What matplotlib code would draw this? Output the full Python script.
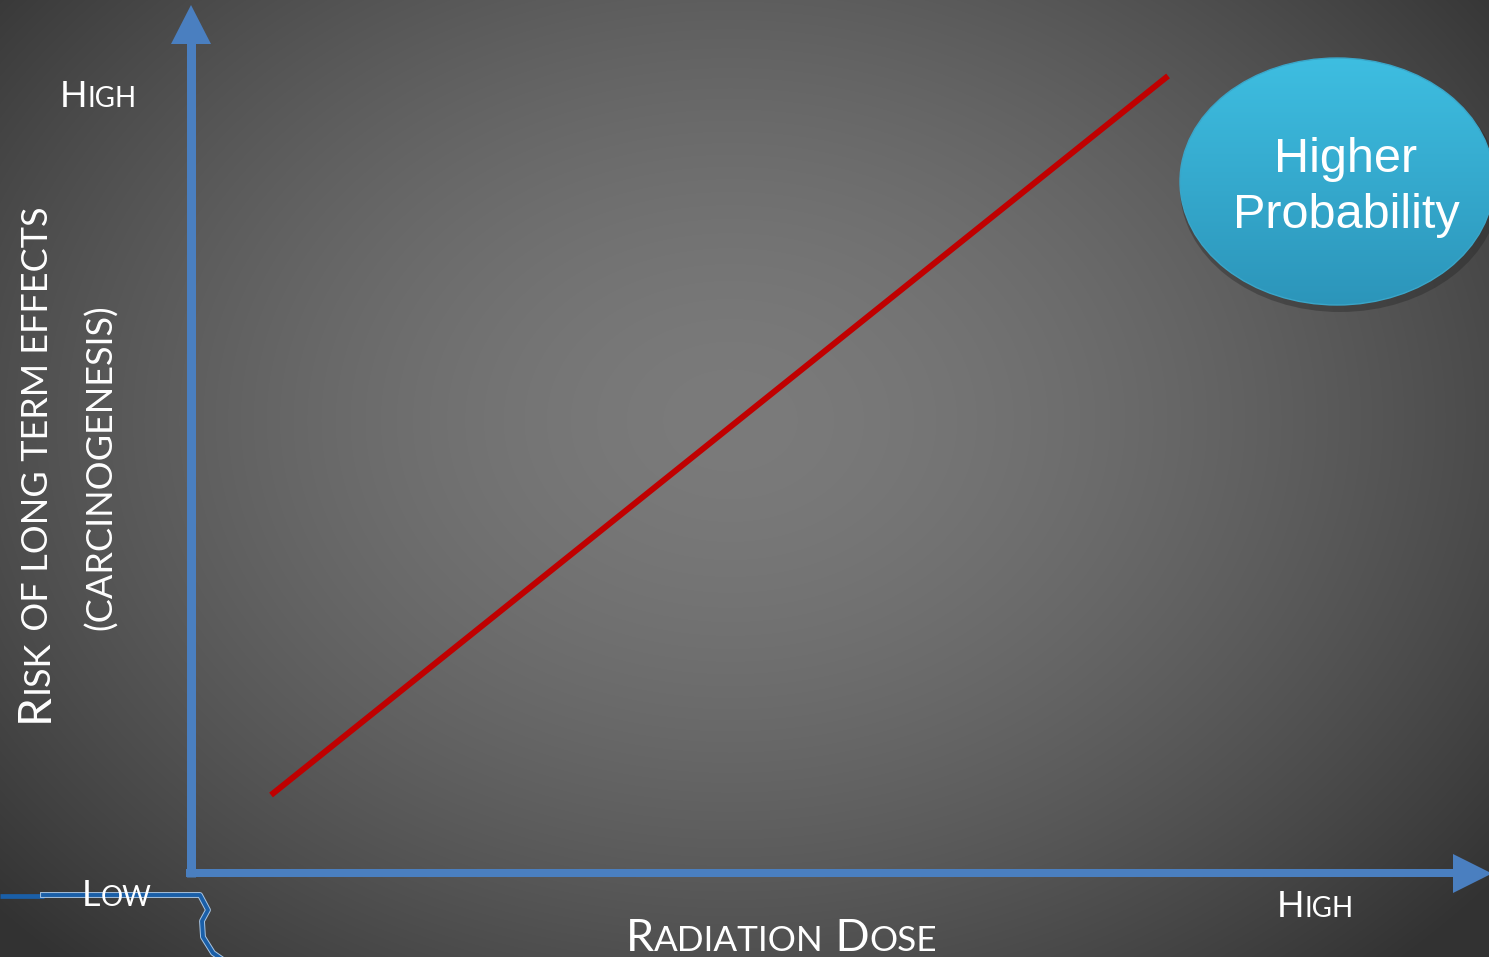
import re
import numpy as np
import matplotlib
matplotlib.use("Agg")
import matplotlib.pyplot as plt
from matplotlib.patches import Polygon, Ellipse

# ---------------- data ----------------
dose = [1.0, 10.0]          # radiation dose (arbitrary units)
risk = [1.0, 10.0]          # risk of long-term effects (arbitrary units)
x_label = "Radiation Dose"
y_label_lines = ["Risk of long term effects", "(carcinogenesis)"]
low_label = "Low"
high_label = "High"
bubble_lines = ["Higher", "Probability"]

W, H = 1489, 957
fig = plt.figure(figsize=(W / 100, H / 100), dpi=100)

# overlay axes in pixel coordinates (decoration)
ov = fig.add_axes([0, 0, 1, 1])
ov.set_xlim(0, W)
ov.set_ylim(H, 0)
ov.axis("off")

# background radial gradient
yy, xx = np.mgrid[0:H, 0:W]
cx, cy, rx, ry = 730, 420, 1000, 760
r = np.sqrt(((xx - cx) / rx) ** 2 + ((yy - cy) / ry) ** 2)
v = (0x7b - (0x7b - 0x38) * np.clip(r / 0.93, 0, 1.05) ** 1.6) / 255.0
img = np.dstack([v, v, v])
ov.imshow(img, extent=(0, W, H, 0), aspect="auto", zorder=0, interpolation="bilinear")

axis_col = "#4a7fc0"
# y-axis arrow
ov.plot([190.5, 190.5], [877, 40], color=axis_col, lw=9 * 0.72, solid_capstyle="butt", zorder=3)
ov.add_patch(Polygon([(171, 44), (211, 44), (191, 5)], closed=True, fc=axis_col, ec="none", zorder=3))
# x-axis arrow
ov.plot([186, 1458], [873, 873], color=axis_col, lw=8 * 0.72, solid_capstyle="butt", zorder=3)
ov.add_patch(Polygon([(1453, 854), (1453, 893), (1492, 873.5)], closed=True, fc=axis_col, ec="none", zorder=3))

# stray connector line at bottom-left
ov.plot([0, 44], [896, 896], color="#1a5fa8", lw=3.4, solid_capstyle="butt", zorder=2)
path_x = [43, 200, 208, 202, 203, 213, 226]
path_y = [895, 895, 910, 921, 937, 953, 962]
ov.plot(path_x, path_y, color="#a9c6e4", lw=4.2, zorder=2)
ov.plot(path_x, path_y, color="#1a5fa8", lw=2.8, zorder=2)

# bubble
ov.add_patch(Ellipse((1340, 188), 320, 248, fc="#262626", ec="none", alpha=0.40, zorder=3))
bx, by, bw, bh = 1337, 181.5, 314, 247
ell = Ellipse((bx, by), bw, bh, fc="none", ec="none", zorder=4)
ov.add_patch(ell)
gy = np.linspace(0, 1, 256)[:, None]
top = np.array([0x3e, 0xbe, 0xe1]) / 255.0
bot = np.array([0x2c, 0x95, 0xba]) / 255.0
grad = top[None, None, :] * (1 - gy[..., None]) + bot[None, None, :] * gy[..., None]
grad = np.repeat(grad, 4, axis=1)
gim = ov.imshow(grad, extent=(bx - bw / 2, bx + bw / 2, by + bh / 2, by - bh / 2),
                aspect="auto", zorder=4, interpolation="bilinear")
gim.set_clip_path(ell)
ov.add_patch(Ellipse((bx, by), bw, bh, fc="none", ec="#3aa6c9", lw=1.0, zorder=5))
ov.text(1346, 172, bubble_lines[0], color="white", fontsize=35, family="Liberation Sans",
        ha="center", va="baseline", zorder=6)
ov.text(1346, 228, bubble_lines[1], color="white", fontsize=35, family="Liberation Sans",
        ha="center", va="baseline", zorder=6)

ov.set_xlim(0, W)
ov.set_ylim(H, 0)

# chart axes for the red line
ax = fig.add_axes([190 / W, (H - 873) / H, (W - 190) / W, (873 - 8) / H])
ax.set_xlim(0.187, 13.22)
ax.set_ylim(0.024, 10.85)
ax.axis("off")
ax.patch.set_alpha(0)
ax.plot(dose, risk, color="#c00000", lw=4.3, solid_capstyle="butt", zorder=5)

# ---------------- small caps helper ----------------
fig.canvas.draw()
renderer = fig.canvas.get_renderer()


def small_caps(x, y, text, big, small, rotation=0, family="Lato", color="white"):
    # uppercase runs in the big size, other runs upper-cased in the small size
    pieces = re.findall(r"\s*[A-Z]+|\s*[^A-Z\s]+", text)
    pos = 0.0
    for p in pieces:
        is_big = p.strip()[0].isupper()
        fs = big if is_big else small
        s = p.upper()
        if rotation == 0:
            t = ov.text(x + pos, y, s, fontsize=fs, family=family, color=color,
                        ha="left", va="baseline", zorder=7)
            w = t.get_window_extent(renderer).width
        else:
            t = ov.text(x, y - pos, s, fontsize=fs, family=family, color=color,
                        ha="left", va="baseline", rotation=90, rotation_mode="anchor", zorder=7)
            w = t.get_window_extent(renderer).height
        pos += w
    return pos


small_caps(60, 107, high_label, 26, 20)
small_caps(82, 906, low_label, 26, 20)
small_caps(1277, 917, high_label, 26, 20)
small_caps(626, 951, x_label, 32.3, 25.3)
small_caps(48, 722, y_label_lines[0], 33, 26, rotation=90)
small_caps(112, 630, y_label_lines[1], 26, 26, rotation=90)

fig.savefig("out.png", dpi=100)
